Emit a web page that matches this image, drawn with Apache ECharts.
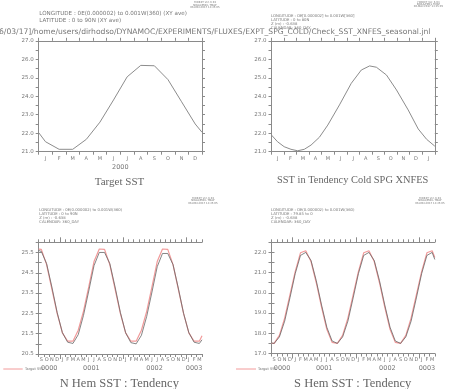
<!DOCTYPE html>
<html><head><meta charset="utf-8">
<script src="https://cdn.jsdelivr.net/npm/echarts@6/dist/echarts.min.js"></script>
<style>html,body{margin:0;padding:0;background:#fff}#c{width:452px;height:389px}</style>
</head><body><div id="c"></div>
<script>
// ---- data ----
var months12 = ['J','F','M','A','M','J','J','A','S','O','N','D'];
var months13 = ['J','F','M','A','M','J','J','A','S','O','N','D','J'];
var months31 = ['S','O','N','D','J','F','M','A','M','J','J','A','S','O','N','D','J','F','M','A','M','J','J','A','S','O','N','D','J','F','M'];
var yearLabelPos = [2, 10, 22, 29.5];
var yearLabels = ['0000','0001','0002','0003'];
var yearBounds = [4, 16, 28];

// Panel 1: Target SST (months from Jan 1)
var targetT = [0, 0.5, 1.5, 2.5, 3.5, 4.5, 5.5, 6.5, 7.5, 8.5, 9.5, 10.5, 11.5, 12];
var targetSST = [22.03, 21.54, 21.13, 21.13, 21.67, 22.6, 23.8, 25.05, 25.67, 25.65, 24.9, 23.7, 22.5, 22.05];

// Panel 2: SST in Tendency Cold SPG XNFES (months from Jan 1)
var tendT = [0, 0.48, 1.01, 1.55, 2.08, 2.61, 3.15, 3.81, 4.48, 5.41, 6.35, 7.15, 7.81, 8.35, 9.15, 9.95, 10.88, 11.68, 12.35, 13];
var tendSST = [21.9, 21.54, 21.27, 21.13, 21.05, 21.13, 21.36, 21.78, 22.44, 23.53, 24.7, 25.42, 25.64, 25.57, 25.15, 24.34, 23.26, 22.23, 21.67, 21.3];

// Panel 3: N Hem (months from Sep 1 0000)
var nT = [0, 0.5, 1.5, 2.5, 3.5, 4.5, 5.5, 6.5, 7.5, 8.5, 9.5, 10.5, 11.5, 12.5, 13.5, 14.5, 15.5, 16.5, 17.5, 18.5, 19.5, 20.5, 21.5, 22.5, 23.5, 24.5, 25.5, 26.5, 27.5, 28.5, 29.5, 30.5, 31];
var nTarget = [25.66, 25.65, 24.9, 23.7, 22.5, 21.54, 21.13, 21.13, 21.67, 22.6, 23.8, 25.05, 25.67, 25.65, 24.9, 23.7, 22.5, 21.54, 21.13, 21.13, 21.67, 22.6, 23.8, 25.05, 25.67, 25.65, 24.9, 23.7, 22.5, 21.54, 21.13, 21.13, 21.4];
var nModel = [25.6, 25.55, 24.95, 23.8, 22.55, 21.55, 21.08, 21.02, 21.45, 22.4, 23.6, 24.85, 25.5, 25.5, 24.95, 23.8, 22.55, 21.55, 21.06, 21.0, 21.42, 22.35, 23.55, 24.8, 25.45, 25.45, 24.9, 23.75, 22.5, 21.55, 21.08, 21.02, 21.2];

// Panel 4: S Hem (months from Sep 1 0000)
var sTarget = [17.5, 17.5, 17.9, 18.75, 19.9, 21.05, 21.98, 22.08, 21.55, 20.5, 19.3, 18.2, 17.55, 17.5, 17.9, 18.75, 19.9, 21.05, 21.98, 22.08, 21.55, 20.5, 19.3, 18.2, 17.55, 17.5, 17.9, 18.75, 19.9, 21.05, 21.98, 22.08, 21.75];
var sModel = [17.52, 17.5, 17.82, 18.6, 19.75, 20.95, 21.85, 22.0, 21.6, 20.6, 19.4, 18.3, 17.62, 17.5, 17.82, 18.6, 19.75, 20.95, 21.85, 22.0, 21.6, 20.6, 19.4, 18.3, 17.62, 17.5, 17.82, 18.6, 19.75, 20.95, 21.85, 22.0, 21.65];

// ---- chart ----
var AX = '#8a8a8a', TX = '#777';
var FONT = 'DejaVu Sans';
function zip(a, b){ return a.map(function(v,i){ return [v, b[i]]; }); }

var grids = [
  {left: 38.7, top: 40.8, width: 163.3, height: 110.9},
  {left: 271.5, top: 40.8, width: 163.3, height: 110.9},
  {left: 38.7, top: 242.3, width: 163.3, height: 111.7},
  {left: 271.5, top: 242.3, width: 163.3, height: 111.2}
];

function catAxis(g, cats, extra){
  var o = {type:'category', gridIndex:g, position:'bottom', data:cats, boundaryGap:true,
    axisLine:{lineStyle:{color:AX, width:1}},
    axisTick:{show:true, length:3, lineStyle:{color:AX}},
    axisLabel:{interval:0, fontSize:5, color:TX, fontFamily:FONT, margin:4.5},
    splitLine:{show:false}};
  for (var k in extra) o[k] = extra[k];
  return o;
}
function dataAxis(g, max){
  return {type:'value', gridIndex:g, position:'top', min:0, max:max, interval:1,
    axisLine:{show:true, lineStyle:{color:AX, width:1}},
    axisTick:{show:true, length:3, lineStyle:{color:AX}},
    axisLabel:{show:false}, splitLine:{show:false}};
}
function yearAxis(g){
  return {type:'value', gridIndex:g, position:'bottom', min:0, max:31,
    axisLine:{show:false},
    axisTick:{show:true, customValues:yearBounds, length:5, inside:false, lineStyle:{color:AX}},
    axisLabel:{show:true, customValues:yearLabelPos, fontSize:6.5, color:TX, fontFamily:FONT, margin:11,
      formatter:function(v){ var i = yearLabelPos.indexOf(v); return i>=0 ? yearLabels[i] : ''; }},
    splitLine:{show:false}};
}
function yearTopAxis(g){
  return {type:'value', gridIndex:g, position:'top', min:0, max:31,
    axisLine:{show:false},
    axisTick:{show:true, customValues:yearBounds, length:5, lineStyle:{color:AX}},
    axisLabel:{show:false}, splitLine:{show:false}};
}
function yLeft(g, min, max){
  return {type:'value', gridIndex:g, position:'left', min:min, max:max, interval:0.5,
    axisLine:{show:true, lineStyle:{color:AX, width:1}},
    axisTick:{show:true, length:3, lineStyle:{color:AX}},
    axisLabel:{fontSize:5.5, color:TX, fontFamily:FONT, margin:5, showMaxLabel:true,
      formatter:function(v){
        var isInt = Math.abs(v - Math.round(v)) < 1e-6;
        var wantHalf = (min % 1) !== 0;
        if (v > max - 1e-6 && wantHalf) return '';
        return (wantHalf ? !isInt : isInt) ? v.toFixed(1) : '';
      }},
    splitLine:{show:false}};
}
function yRight(g, min, max){
  return {type:'value', gridIndex:g, position:'right', min:min, max:max, interval:0.5,
    axisLine:{show:true, lineStyle:{color:AX, width:1}},
    axisTick:{show:true, length:3, lineStyle:{color:AX}},
    axisLabel:{show:false}, splitLine:{show:false}};
}

var xAxis = [
  catAxis(0, months12, {name:'2000', nameLocation:'middle', nameGap:12,
    nameTextStyle:{fontSize:6.5, color:TX, fontFamily:FONT}}),
  dataAxis(0, 12),
  catAxis(1, months13, {}),
  dataAxis(1, 13),
  catAxis(2, months31, {axisLabel:{interval:0, fontSize:5, color:TX, fontFamily:FONT, margin:3.5}}),
  dataAxis(2, 31),
  yearAxis(2),
  yearTopAxis(2),
  catAxis(3, months31, {axisLabel:{interval:0, fontSize:5, color:TX, fontFamily:FONT, margin:3.5}}),
  dataAxis(3, 31),
  yearAxis(3),
  yearTopAxis(3)
];
var yAxis = [
  yLeft(0, 21, 27), yRight(0, 21, 27),
  yLeft(1, 21, 27), yRight(1, 21, 27),
  yLeft(2, 20.5, 26), yRight(2, 20.5, 26),
  yLeft(3, 17, 22.5), yRight(3, 17, 22.5)
];

function line(xi, yi, data, color, w, z){
  return {type:'line', xAxisIndex:xi, yAxisIndex:yi, data:data, showSymbol:false, symbol:'none',
    lineStyle:{color:color, width:w}, z:z||2, animation:false, silent:true};
}
var RED = '#f29a9a', DARK = '#666', GREYL = '#8c8c8c';
var series = [
  line(1, 0, zip(targetT, targetSST), GREYL, 1),
  line(3, 2, zip(tendT, tendSST), GREYL, 1),
  line(5, 4, zip(nT, nTarget), RED, 1.2, 2),
  line(5, 4, zip(nT, nModel), DARK, 0.8, 3),
  line(9, 6, zip(nT, sTarget), RED, 1.2, 2),
  line(9, 6, zip(nT, sModel), DARK, 0.8, 3)
];

function txt(x, y, s, size, opts){
  opts = opts || {};
  return {type:'text', x:x, y:y, silent:true,
    style:{text:s, fontSize:size, fontFamily:opts.font||FONT, fill:opts.color||TX,
      textAlign:opts.align||'left', textVerticalAlign:'middle', lineHeight:opts.lh||size}};
}
function stamp(cx, y){
  return [txt(cx, y, 'FERRET Ver. 6.93', 2.6, {align:'center'}),
          txt(cx, y+2.4, 'NOAA/PMEL TMAP', 2.6, {align:'center'}),
          txt(cx, y+4.8, '06-MAY-2017 13:25:05', 2.6, {align:'center'})];
}
function header(x, y, lines){
  return lines.map(function(s, i){ return txt(x, y + i*4, s, 3.8); });
}
var SERIF = 'Liberation Serif';
var graphic = [].concat(
  stamp(205, 2.5), stamp(428.5, 2),
  [txt(39.3, 14, 'LONGITUDE : 0E(0.000002) to 0.001W(360) (XY ave)', 5.6),
   txt(39.3, 20.7, 'LATITUDE : 0 to 90N (XY ave)', 5.6),
   txt(-1, 31.7, '6/03/17]/home/users/dirhodso/DYNAMOC/EXPERIMENTS/FLUXES/EXPT_SPG_COLD/Check_SST_XNFES_seasonal.jnl', 7.62)],
  header(271, 16, ['LONGITUDE : OE[0.000002] to 0.001W[360]', 'LATITUDE : 0 to 80N', 'Z (m) : -0.638', 'CALENDAR: 360_DAY']),
  [txt(119.5, 181.7, 'Target SST', 11, {font:SERIF, align:'center', color:'#666'}),
   txt(352.7, 180, 'SST in Tendency Cold SPG XNFES', 10.4, {font:SERIF, align:'center', color:'#666'})],
  stamp(203, 198.3), stamp(430, 198.3),
  header(39.3, 210, ['LONGITUDE : 0E(0.000002) to 0.001W(360)', 'LATITUDE : 0 to 90N', 'Z (m) : -0.638', 'CALENDAR: 360_DAY']),
  header(271, 210, ['LONGITUDE : OE(0.000002) to 0.001W(360)', 'LATITUDE : 79.85 to 0', 'Z (m) : -0.638', 'CALENDAR: 360_DAY']),
  [{type:'line', silent:true, shape:{x1:3.3, y1:369, x2:22.7, y2:369}, style:{stroke:RED, lineWidth:1}},
   txt(25, 369, 'Target SST', 3.5),
   {type:'line', silent:true, shape:{x1:236, y1:369, x2:256, y2:369}, style:{stroke:RED, lineWidth:1}},
   txt(258, 369, 'Target SST', 3.5),
   txt(119.3, 383.3, 'N Hem SST : Tendency', 12.5, {font:SERIF, align:'center', color:'#666'}),
   txt(352.7, 383.3, 'S Hem SST : Tendency', 12.5, {font:SERIF, align:'center', color:'#666'})]
);

var chart = echarts.init(document.getElementById('c'), null, {renderer:'canvas'});
chart.setOption({
  animation:false,
  backgroundColor:'#fff',
  grid:grids.map(function(g){ g.containLabel = false; return g; }),
  xAxis:xAxis, yAxis:yAxis, series:series, graphic:graphic
});
</script></body></html>
